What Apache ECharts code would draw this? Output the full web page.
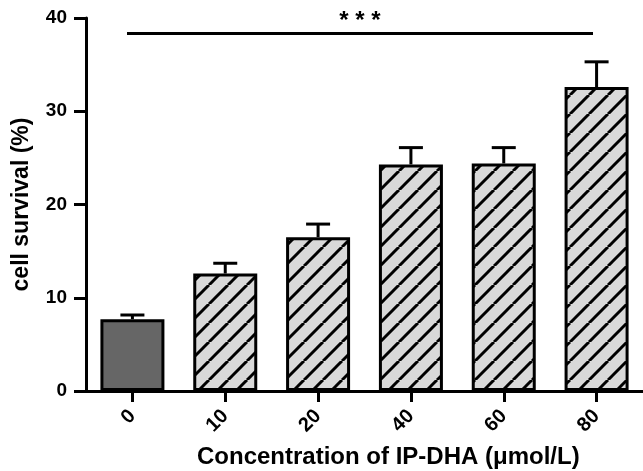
<!DOCTYPE html>
<html>
<head>
<meta charset="utf-8">
<script src="https://cdn.jsdelivr.net/npm/echarts@6/dist/echarts.min.js"></script>
<style>
html,body{margin:0;padding:0;background:#fff;}
#chart{width:643px;height:471px;}
</style>
</head>
<body>
<div id="chart"></div>
<script>
var categories = ['0', '10', '20', '40', '60', '80'];
var means = [7.7, 12.6, 16.5, 24.3, 24.4, 32.6];
var errors = [0.45, 1.1, 1.4, 1.8, 1.7, 2.7];
var yTicks = [0, 10, 20, 30, 40];
var sigLevel = 38.4;
var sigLabel = '* * *';

var FONT = 'Liberation Sans, Arial, Helvetica, sans-serif';

function makeHatch() {
  var s = 19;
  var c = document.createElement('canvas');
  c.width = s; c.height = s;
  var ctx = c.getContext('2d');
  ctx.fillStyle = '#d9d9d9';
  ctx.fillRect(0, 0, s, s);
  ctx.strokeStyle = '#000';
  ctx.lineWidth = 3;
  [-s, 0, s].forEach(function (k) {
    ctx.beginPath();
    ctx.moveTo(k, s);
    ctx.lineTo(k + s, 0);
    ctx.stroke();
  });
  return c;
}
var hatch = { image: makeHatch(), repeat: 'repeat' };

var barData = means.map(function (v, i) {
  return {
    value: v,
    itemStyle: { color: i === 0 ? '#666666' : hatch }
  };
});
var errData = means.map(function (v, i) { return [i, v, v + errors[i]]; });

var chart = echarts.init(document.getElementById('chart'), null, { renderer: 'canvas' });
chart.setOption({
  animation: false,
  backgroundColor: '#fff',
  grid: { left: 86, right: 0, top: 18, bottom: 80, containLabel: false, outerBoundsMode: 'none' },
  xAxis: {
    type: 'category',
    data: categories,
    axisLine: { show: true, lineStyle: { color: '#000', width: 3 } },
    axisTick: { show: true, alignWithLabel: true, length: 11, lineStyle: { color: '#000', width: 3 } },
    axisLabel: { rotate: 45, margin: 22, color: '#000', fontSize: 20, fontWeight: 'bold', fontFamily: FONT },
    splitLine: { show: false }
  },
  yAxis: {
    type: 'value',
    min: yTicks[0],
    max: yTicks[yTicks.length - 1],
    interval: 10,
    name: 'cell survival (%)',
    nameLocation: 'middle',
    nameGap: 53,
    nameTextStyle: { color: '#000', fontSize: 23, fontWeight: 'bold', fontFamily: FONT },
    axisLine: { show: true, lineStyle: { color: '#000', width: 3 } },
    axisTick: { show: true, length: 12, lineStyle: { color: '#000', width: 3 } },
    axisLabel: { margin: 19, color: '#000', fontSize: 19, fontWeight: 'bold', fontFamily: FONT },
    splitLine: { show: false }
  },
  graphic: [{
    type: 'text',
    left: 197,
    top: 445,
    style: {
      text: 'Concentration of IP-DHA (μmol/L)',
      fill: '#000',
      font: 'bold 24px ' + FONT
    }
  }],
  series: [
    {
      type: 'bar',
      data: barData,
      barWidth: 64,
      itemStyle: { borderColor: '#000', borderWidth: 3 },
      z: 2,
      markLine: {
        silent: true,
        symbol: ['none', 'none'],
        lineStyle: { color: '#000', width: 3, type: 'solid' },
        label: {
          show: true,
          position: 'middle',
          formatter: sigLabel,
          color: '#000',
          fontSize: 24,
          fontWeight: 'bold',
          fontFamily: FONT,
          distance: 0
        },
        data: [[
          { coord: [0, sigLevel], x: 127 },
          { coord: [5, sigLevel], x: 593 }
        ]]
      }
    },
    {
      type: 'custom',
      data: errData,
      z: 3,
      renderItem: function (params, api) {
        var x = api.value(0);
        var top = api.coord([x, api.value(2)]);
        var base = api.coord([x, api.value(1)]);
        var half = 12;
        var st = { stroke: '#000', lineWidth: 3 };
        return {
          type: 'group',
          children: [
            { type: 'line', shape: { x1: top[0], y1: base[1], x2: top[0], y2: top[1] }, style: st },
            { type: 'line', shape: { x1: top[0] - half, y1: top[1], x2: top[0] + half, y2: top[1] }, style: st }
          ]
        };
      }
    }
  ]
});
</script>
</body>
</html>
